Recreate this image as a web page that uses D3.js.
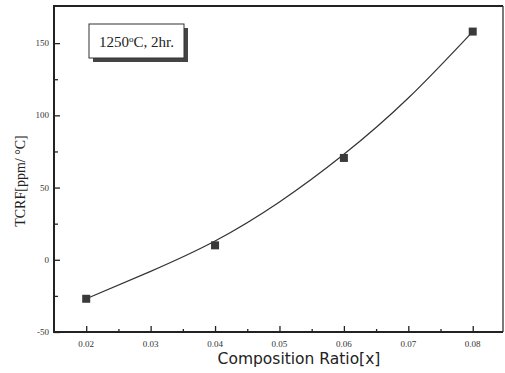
<!DOCTYPE html>
<html>
<head>
<meta charset="utf-8">
<script src="https://cdn.jsdelivr.net/npm/d3@7"></script>
<style>
  body { margin: 0; background: #fff; }
  svg { display: block; }
</style>
</head>
<body>
<div id="chart"></div>
<script>
// measured points
const ratios = [0.02, 0.04, 0.06, 0.08];
const tcrf = [-27, 10, 70.5, 158];

// fitted curve
const fitRatios = [0.02, 0.03, 0.04, 0.05, 0.06, 0.07, 0.08];
const fitTcrf = [-27, -8, 13, 40, 73, 112, 158];

const xTicks = [0.02, 0.03, 0.04, 0.05, 0.06, 0.07, 0.08];
const xMinor = [0.025, 0.035, 0.045, 0.055, 0.065, 0.075];
const yTicks = [-50, 0, 50, 100, 150];
const yMinor = [-25, 25, 75, 125];

const width = 505, height = 373;
const plotLeft = 54, plotRight = 503, plotTop = 6, plotBottom = 332;

const svg = d3.select('#chart').append('svg')
  .attr('width', width)
  .attr('height', height);

const x = d3.scaleLinear().domain([0.015, 0.0847]).range([plotLeft, plotRight]);
const y = d3.scaleLinear().domain([-50, 175.7]).range([plotBottom, plotTop]);

// ticks pointing inward
svg.append('g')
  .attr('transform', `translate(0,${plotBottom})`)
  .call(d3.axisTop(x).tickValues(xTicks).tickSize(6).tickFormat(''));
svg.append('g')
  .attr('transform', `translate(0,${plotBottom})`)
  .call(d3.axisTop(x).tickValues(xMinor).tickSize(3).tickFormat(''));
svg.append('g')
  .attr('transform', `translate(${plotLeft},0)`)
  .call(d3.axisRight(y).tickValues(yTicks).tickSize(6).tickFormat(''));
svg.append('g')
  .attr('transform', `translate(${plotLeft},0)`)
  .call(d3.axisRight(y).tickValues(yMinor).tickSize(4).tickFormat(''));

svg.selectAll('.domain').remove();
svg.selectAll('.tick line').attr('stroke', '#222').attr('stroke-width', 1.3);

// frame
svg.append('line').attr('x1', plotLeft).attr('x2', plotRight).attr('y1', plotTop).attr('y2', plotTop)
  .attr('stroke', '#222').attr('stroke-width', 2);
svg.append('line').attr('x1', plotRight).attr('x2', plotRight).attr('y1', plotTop).attr('y2', plotBottom)
  .attr('stroke', '#222').attr('stroke-width', 1.2);
svg.append('line').attr('x1', plotLeft).attr('x2', plotRight).attr('y1', plotBottom).attr('y2', plotBottom)
  .attr('stroke', '#222').attr('stroke-width', 2);
svg.append('line').attr('x1', plotLeft).attr('x2', plotLeft).attr('y1', plotTop - 1).attr('y2', plotBottom + 1)
  .attr('stroke', '#222').attr('stroke-width', 2);

// tick labels
svg.append('g').selectAll('text')
  .data(xTicks)
  .join('text')
  .attr('x', d => x(d))
  .attr('y', 347)
  .attr('text-anchor', 'middle')
  .attr('font-family', 'Liberation Serif, serif')
  .attr('font-size', 9)
  .attr('fill', '#333')
  .text(d => d.toFixed(2));

svg.append('g').selectAll('text')
  .data(yTicks)
  .join('text')
  .attr('x', 49)
  .attr('y', d => y(d) + 3)
  .attr('text-anchor', 'end')
  .attr('font-family', 'Liberation Serif, serif')
  .attr('font-size', 9)
  .attr('fill', '#333')
  .text(d => d);

// axis titles
svg.append('text')
  .attr('x', 299)
  .attr('y', 364)
  .attr('text-anchor', 'middle')
  .attr('font-family', 'DejaVu Sans, sans-serif')
  .attr('font-size', 15.5)
  .attr('fill', '#222')
  .text('Composition Ratio[x]');

svg.append('text')
  .attr('transform', 'translate(25,181) rotate(-90)')
  .attr('text-anchor', 'middle')
  .attr('font-family', 'Liberation Serif, serif')
  .attr('font-size', 14)
  .attr('fill', '#222')
  .text('TCRF[ppm/ °C]');

// fitted curve
const line = d3.line()
  .x((d, i) => x(fitRatios[i]))
  .y(d => y(d))
  .curve(d3.curveNatural);

svg.append('path')
  .datum(fitTcrf)
  .attr('d', line)
  .attr('fill', 'none')
  .attr('stroke', '#333')
  .attr('stroke-width', 1.2);

// markers
svg.append('g').selectAll('rect')
  .data(tcrf)
  .join('rect')
  .attr('x', (d, i) => x(ratios[i]) - 4)
  .attr('y', d => y(d) - 4)
  .attr('width', 8)
  .attr('height', 8)
  .attr('fill', '#3a3a3a');

// annotation box with shadow
const box = svg.append('g');
box.append('rect').attr('x', 93).attr('y', 28).attr('width', 95).attr('height', 34).attr('fill', '#444');
box.append('rect').attr('x', 89).attr('y', 24).attr('width', 95).attr('height', 34)
  .attr('fill', '#fff').attr('stroke', '#333').attr('stroke-width', 1);
const label = box.append('text')
  .attr('x', 136.5)
  .attr('y', 47)
  .attr('text-anchor', 'middle')
  .attr('font-family', 'Liberation Serif, serif')
  .attr('font-size', 15)
  .attr('fill', '#222');
label.append('tspan').text('1250');
label.append('tspan').attr('dy', -5).attr('font-size', 9).text('o');
label.append('tspan').attr('dy', 5).text('C, 2hr.');
</script>
</body>
</html>
